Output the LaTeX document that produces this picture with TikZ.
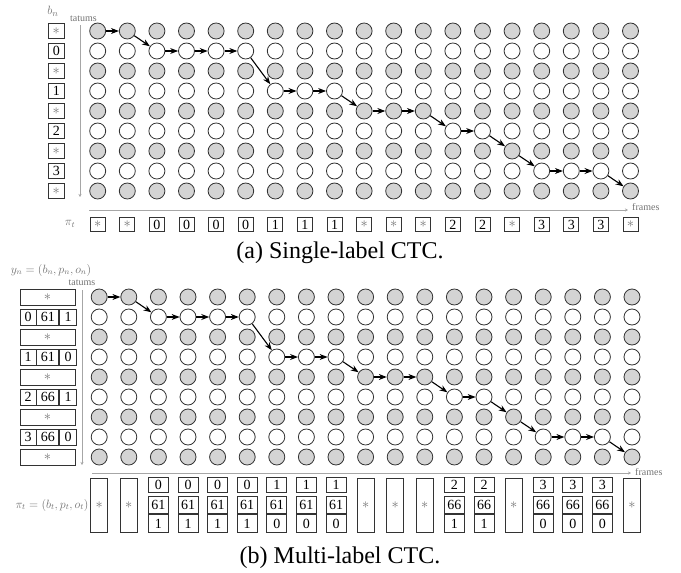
\documentclass[tikz,border=0pt]{standalone}
\usepackage{fontspec}
\setmainfont{Liberation Serif}
\usetikzlibrary{positioning,arrows.meta}

\newcommand{\blk}{\textcolor{black!55}{$\ast$}}

\begin{document}
\begin{tikzpicture}[
  x=1pt, y=-1pt,
  >=Stealth,
  node distance=0pt,
  state/.style={circle, draw=black!80, line width=0.8pt, minimum size=16pt, inner sep=0pt},
  blank/.style={state, fill=black!17},
  lab/.style={draw=black!80, line width=0.8pt, minimum width=15pt, minimum height=14.5pt, inner sep=0pt, font=\fontsize{14}{14}\selectfont},
  cell/.style={lab, minimum height=16pt},
  tall/.style={lab, minimum width=17pt, minimum height=54pt},
  axis/.style={draw=black!35, line width=0.8pt, -{Stealth[length=3pt, width=3pt]}},
  note/.style={text=black!55, inner sep=0pt, font=\fontsize{10}{10}\selectfont},
  move/.style={->, line width=1.1pt}
]
  \useasboundingbox (0,0) rectangle (681,573);

  % (a) single-label
  \foreach \c in {0,...,18} \foreach \r in {0,...,8} {
    \ifodd\r
      \node[state] (t-\c-\r) at ({97.7+29.6*\c},{31+20*\r}) {};
    \else
      \node[blank] (t-\c-\r) at ({97.7+29.6*\c},{31+20*\r}) {};
    \fi
  }
  \foreach \lbl [count=\r from 0] in {\blk,0,\blk,1,\blk,2,\blk,3,\blk}
    \node[lab, minimum width=16pt] (bn-\r) at (56.3,{31+20*\r}) {\lbl};
  \foreach \lbl [count=\c from 0] in {\blk,\blk,0,0,0,0,1,1,1,\blk,\blk,\blk,2,2,\blk,3,3,3,\blk}
    \node[lab] (pi-\c) at ({97.7+29.6*\c},224.5) {\lbl};

  \coordinate (tv0) at (80,25);
  \coordinate (tv1) at (80,197);
  \coordinate (th0) at (89,210);
  \coordinate (th1) at (628,210);
  \draw[axis] (tv0) -- (tv1);
  \draw[axis] (th0) -- (th1);
  \node[note, anchor=west] (frA) at (632,207) {frames};
  \node[note] (taA) at (83.5,19) {tatums};
  \node[note, font=\fontsize{13}{13}\selectfont] (bnA) at (53,11) {$b_n$};
  \node[note, font=\fontsize{12}{12}\selectfont] (piA) at (70,224) {$\pi_t$};
  \node[font=\fontsize{24}{24}\selectfont, anchor=base] (capA) at (340,258) {(a) Single-label CTC.};

  % (b) multi-label
  \foreach \c in {0,...,18} \foreach \r in {0,...,8} {
    \ifodd\r
      \node[state] (m-\c-\r) at ({99.2+29.6*\c},{297+20*\r}) {};
    \else
      \node[blank] (m-\c-\r) at ({99.2+29.6*\c},{297+20*\r}) {};
    \fi
  }
  \foreach \r in {0,2,4,6,8}
    \node[cell, minimum width=55pt] (yn-\r) at (47.5,{297+20*\r}) {\blk};
  \foreach \r/\b/\p/\o in {1/0/61/1, 3/1/61/0, 5/2/66/1, 7/3/66/0} {
    \node[cell, minimum width=16pt] (yb-\r) at (28,{297+20*\r}) {\b};
    \node[cell, minimum width=22pt, right=of yb-\r] (yp-\r) {\p};
    \node[cell, minimum width=17pt, right=of yp-\r] (yo-\r) {\o};
  }
  \foreach \c in {0,1,9,10,11,14,18}
    \node[tall] (q-\c) at ({99.2+29.6*\c},505) {\blk};
  \foreach \c/\b/\p/\o in {2/0/61/1, 3/0/61/1, 4/0/61/1, 5/0/61/1, 6/1/61/0, 7/1/61/0, 8/1/61/0,
                           12/2/66/1, 13/2/66/1, 15/3/66/0, 16/3/66/0, 17/3/66/0} {
    \node[lab, minimum width=20pt, minimum height=17.5pt] (qp-\c) at ({99.2+29.6*\c},505) {\p};
    \node[lab, minimum width=20pt, minimum height=15pt, above=3pt of qp-\c] (qb-\c) {\b};
    \node[lab, minimum width=20pt, minimum height=18pt, below=of qp-\c] (qo-\c) {\o};
  }

  \coordinate (mv0) at (82,290);
  \coordinate (mv1) at (82,465);
  \coordinate (mh0) at (92,473);
  \coordinate (mh1) at (631,473);
  \draw[axis] (mv0) -- (mv1);
  \draw[axis] (mh0) -- (mh1);
  \node[note, anchor=west] (frB) at (635,472) {frames};
  \node[note] (taB) at (82,283) {tatums};
  \node[note, font=\fontsize{12}{12}\selectfont] (ynB) at (51,270) {$y_n=(b_n,p_n,o_n)$};
  \node[note, font=\fontsize{12}{12}\selectfont] (piB) at (52,505) {$\pi_t=(b_t,p_t,o_t)$};
  \node[font=\fontsize{24}{24}\selectfont, anchor=base] (capB) at (340,563) {(b) Multi-label CTC.};

  % alignment paths
  \foreach \c/\r/\d/\s in {0/0/1/0, 1/0/2/1, 2/1/3/1, 3/1/4/1, 4/1/5/1, 5/1/6/3, 6/3/7/3, 7/3/8/3, 8/3/9/4,
                           9/4/10/4, 10/4/11/4, 11/4/12/5, 12/5/13/5, 13/5/14/6, 14/6/15/7, 15/7/16/7,
                           16/7/17/7, 17/7/18/8} {
    \draw[move] (t-\c-\r) -- (t-\d-\s);
    \draw[move] (m-\c-\r) -- (m-\d-\s);
  }
\end{tikzpicture}
\end{document}
